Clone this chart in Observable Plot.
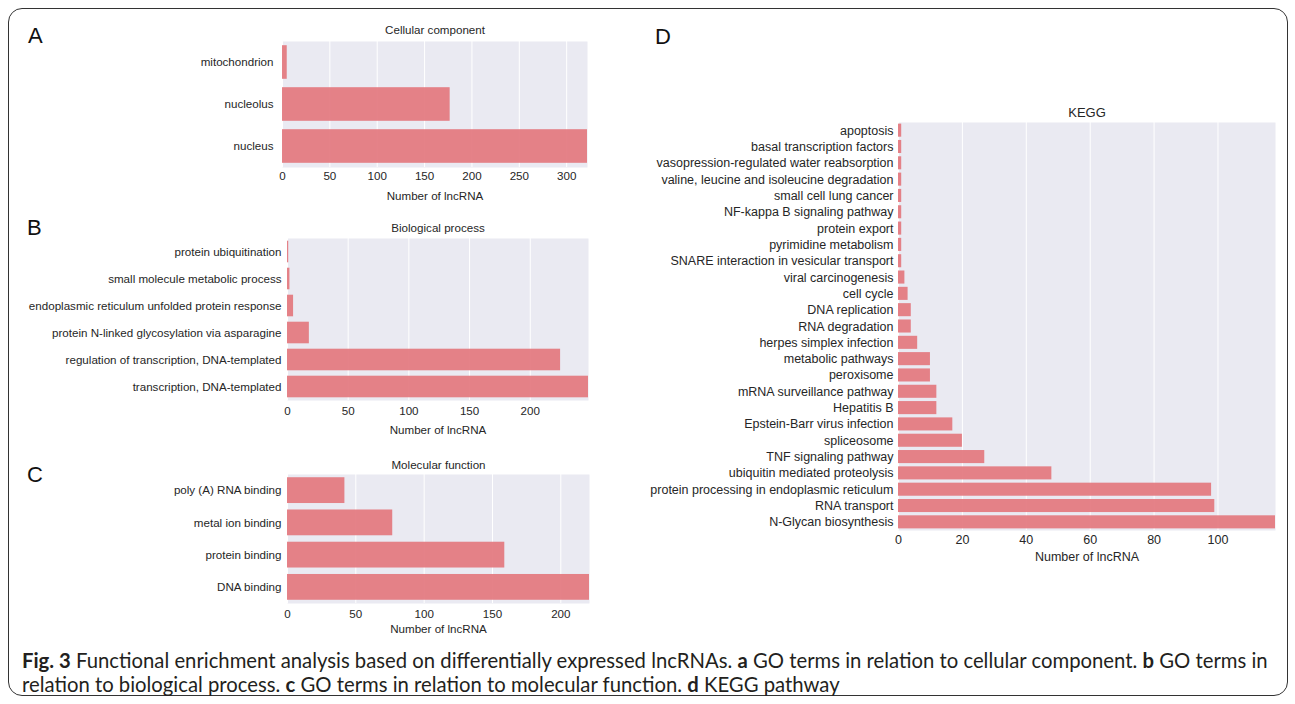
<!DOCTYPE html>
<html>
<head>
<meta charset="utf-8">
<script src="https://cdn.jsdelivr.net/npm/d3@7"></script>
<script src="https://cdn.jsdelivr.net/npm/@observablehq/plot@0.6"></script>
<style>
  html, body { margin: 0; padding: 0; background: #fff; }
  body { width: 1295px; height: 704px; position: relative; overflow: hidden;
         font-family: "Liberation Sans", Arial, sans-serif; }
  #frame { position: absolute; left: 8px; top: 8px; width: 1280px; height: 688px;
           border: 1.5px solid #333; border-radius: 14px; box-sizing: border-box; }
  .letter { position: absolute; font-size: 22px; line-height: 1; color: #111; }
  #caption { position: absolute; left: 22px; top: 648px; width: 1265px; white-space: nowrap;
             font-family: Lato, "Open Sans", sans-serif; font-size: 20.3px; line-height: 24px; color: #231f20; }
  #caption b { font-weight: 700; }
</style>
</head>
<body>
<div id="frame"></div>
<div class="letter" style="left:28px;top:25px">A</div>
<div class="letter" style="left:27px;top:217px">B</div>
<div class="letter" style="left:27px;top:464px">C</div>
<div class="letter" style="left:655px;top:26px">D</div>
<div id="caption"><b>Fig. 3</b> Functional enrichment analysis based on differentially expressed lncRNAs. <b>a</b> GO terms in relation to cellular component. <b>b</b> GO terms in<br>relation to biological process. <b>c</b> GO terms in relation to molecular function. <b>d</b> KEGG pathway</div>

<script>
// GO: cellular component
const ccTerms = ["mitochondrion", "nucleolus", "nucleus"];
const ccCounts = [5, 177, 322];
const ccTicks = [0, 50, 100, 150, 200, 250, 300];

// GO: biological process
const bpTerms = [
  "protein ubiquitination",
  "small molecule metabolic process",
  "endoplasmic reticulum unfolded protein response",
  "protein N-linked glycosylation via asparagine",
  "regulation of transcription, DNA-templated",
  "transcription, DNA-templated"
];
const bpCounts = [1, 2, 5, 18, 225, 248];
const bpTicks = [0, 50, 100, 150, 200];

// GO: molecular function
const mfTerms = ["poly (A) RNA binding", "metal ion binding", "protein binding", "DNA binding"];
const mfCounts = [42, 77, 159, 221];
const mfTicks = [0, 50, 100, 150, 200];

// KEGG pathways
const keggTerms = [
  "apoptosis",
  "basal transcription factors",
  "vasopression-regulated water reabsorption",
  "valine, leucine and isoleucine degradation",
  "small cell lung cancer",
  "NF-kappa B signaling pathway",
  "protein export",
  "pyrimidine metabolism",
  "SNARE interaction in vesicular transport",
  "viral carcinogenesis",
  "cell cycle",
  "DNA replication",
  "RNA degradation",
  "herpes simplex infection",
  "metabolic pathways",
  "peroxisome",
  "mRNA surveillance pathway",
  "Hepatitis B",
  "Epstein-Barr virus infection",
  "spliceosome",
  "TNF signaling pathway",
  "ubiquitin mediated proteolysis",
  "protein processing in endoplasmic reticulum",
  "RNA transport",
  "N-Glycan biosynthesis"
];
const keggCounts = [1, 1, 1, 1, 1, 1, 1, 1, 1, 2, 3, 4, 4, 6, 10, 10, 12, 12, 17, 20, 27, 48, 98, 99, 118];
const keggTicks = [0, 20, 40, 60, 80, 100];

const xLabel = "Number of lncRNA";

function barPanel(o) {
  const rows = o.terms.map((term, i) => ({term, count: o.counts[i]}));
  const chart = Plot.plot({
    width: o.marginLeft + o.plotWidth + 10,
    height: o.marginTop + o.plotHeight + o.marginBottom,
    marginLeft: o.marginLeft,
    marginRight: 10,
    marginTop: o.marginTop,
    marginBottom: o.marginBottom,
    style: {
      fontFamily: "'Liberation Sans', Arial, sans-serif",
      fontSize: o.fontSize + "px",
      color: "#262626",
      background: "none",
      overflow: "visible"
    },
    x: {domain: [0, o.xMax], label: null},
    y: {domain: o.terms, paddingInner: 0.2, paddingOuter: 0.1, round: false, label: null},
    marks: [
      Plot.frame({fill: "#eaeaf2", stroke: "none"}),
      Plot.gridX(o.ticks, {stroke: "white", strokeOpacity: 1, strokeWidth: 1}),
      Plot.barX(rows, {x: "count", y: "term", fill: "#e3777e", fillOpacity: 0.92}),
      Plot.axisX(o.ticks, {tickSize: 0, tickPadding: o.tickPad, label: null, fontSize: o.fontSize}),
      Plot.axisY({tickSize: 0, tickPadding: o.yPad, label: null, fontSize: o.fontSize}),
      Plot.text([o.title], {frameAnchor: "top", lineAnchor: "middle", dy: o.titleDy, text: d => d,
                            fontSize: o.titleSize || o.fontSize, fill: "#262626"}),
      Plot.text([xLabel], {frameAnchor: "bottom", lineAnchor: "middle", dy: o.labelDy, text: d => d,
                           fontSize: o.fontSize, fill: "#262626"})
    ]
  });
  chart.style.position = "absolute";
  chart.style.left = o.left + "px";
  chart.style.top = o.top + "px";
  document.body.appendChild(chart);
}

barPanel({
  terms: ccTerms, counts: ccCounts, ticks: ccTicks, xMax: 322, title: "Cellular component",
  left: 0, top: 20, marginLeft: 282, plotWidth: 305, marginTop: 21, plotHeight: 126, marginBottom: 40,
  fontSize: 11.6, tickPad: 4, yPad: 9, titleDy: -11, labelDy: 29
});

barPanel({
  terms: bpTerms, counts: bpCounts, ticks: bpTicks, xMax: 248, title: "Biological process",
  left: 0, top: 210, marginLeft: 287, plotWidth: 301, marginTop: 28, plotHeight: 162, marginBottom: 40,
  fontSize: 11.6, tickPad: 6, yPad: 6, titleDy: -10, labelDy: 30
});

barPanel({
  terms: mfTerms, counts: mfCounts, ticks: mfTicks, xMax: 221, title: "Molecular function",
  left: 0, top: 445, marginLeft: 287, plotWidth: 302, marginTop: 29, plotHeight: 129, marginBottom: 34,
  fontSize: 11.6, tickPad: 6, yPad: 6, titleDy: -9, labelDy: 26
});

barPanel({
  terms: keggTerms, counts: keggCounts, ticks: keggTicks, xMax: 118, title: "KEGG",
  left: 600, top: 90, marginLeft: 298, plotWidth: 377, marginTop: 32, plotHeight: 408, marginBottom: 36,
  fontSize: 12.5, titleSize: 13, tickPad: 5, yPad: 5, titleDy: -10, labelDy: 26
});
</script>
</body>
</html>
